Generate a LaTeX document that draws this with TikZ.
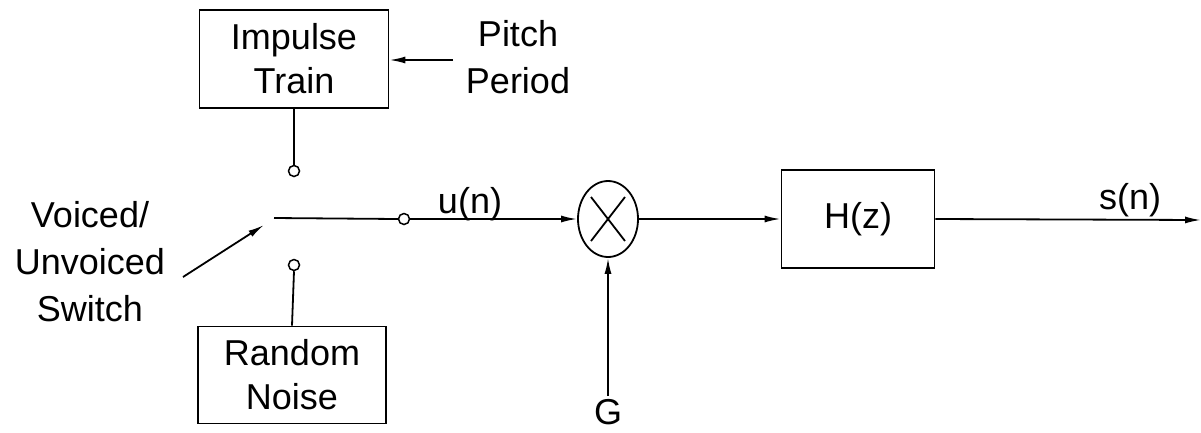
\documentclass[tikz,border=0pt]{standalone}
\usepackage{fontspec}
\setmainfont{Liberation Sans}
\usetikzlibrary{arrows.meta,shapes.geometric,calc}
\begin{document}
\begin{tikzpicture}[x=1pt,y=-1pt,
  line width=1.8pt,
  blk/.style={draw,minimum width=#1,inner sep=0pt,align=center,font=\fontsize{36}{44}\selectfont},
  lbl/.style={inner sep=0pt,align=center,font=\fontsize{36}{47}\selectfont},
  term/.style={draw,circle,minimum size=11pt,inner sep=0pt,line width=1.5pt},
  arr/.style={-{Latex[length=16pt,width=7pt]}}]
\useasboundingbox (0,0) rectangle (1201,432);
% blocks
\node[blk=189pt,minimum height=98pt] (imp) at (294,59) {Impulse\\Train};
\node[blk=188pt,minimum height=97pt] (rnd) at (292,375) {Random\\Noise};
\node[blk=153pt,minimum height=98pt] (hz) at (858,219) {H(z)};
\node[draw,ellipse,minimum width=60pt,minimum height=76pt,inner sep=0pt] (mul) at (608,219) {};
\draw ($(mul.center)+(-17,-22)$) coordinate (c1) -- ($(mul.center)+(17,22)$) coordinate (c2);
\draw ($(mul.center)+(17,-22)$) coordinate (c3) -- ($(mul.center)+(-17,22)$) coordinate (c4);
% labels
\node[lbl] (pitch) at (518,57) {Pitch\\Period};
\node[lbl] (vu) at (90,262) {Voiced/\\Unvoiced\\Switch};
\node[lbl] (un) at (470,204) {u(n)};
\node[lbl] (sn) at (1130,200) {s(n)};
\node[lbl] (g) at (608,412) {G};
% terminals
\node[term] (t1) at (294,171) {};
\node[term] (t2) at (294,265) {};
\node[term] (t3) at (404,219) {};
\coordinate (sw) at (274,218);
\coordinate (out) at (1201,220);
\coordinate (pa) at (453,60);
\coordinate (va) at (183,277);
\coordinate (vb) at (264,225);
\coordinate (gb) at (608,396);
% connections
\draw[arr] (pa) -- (imp.east |- pa);
\draw (imp.south) -- (t1.north);
\draw (t2.south) -- (rnd.north);
\draw (sw) -- (t3.west);
\draw[arr] (va) -- (vb);
\draw[arr] (t3.east) -- (mul.west);
\draw[arr] (mul.east) -- (hz.west);
\draw[arr] (hz.east) -- (out);
\draw[arr] (gb) -- (mul.south);
\end{tikzpicture}
\end{document}
